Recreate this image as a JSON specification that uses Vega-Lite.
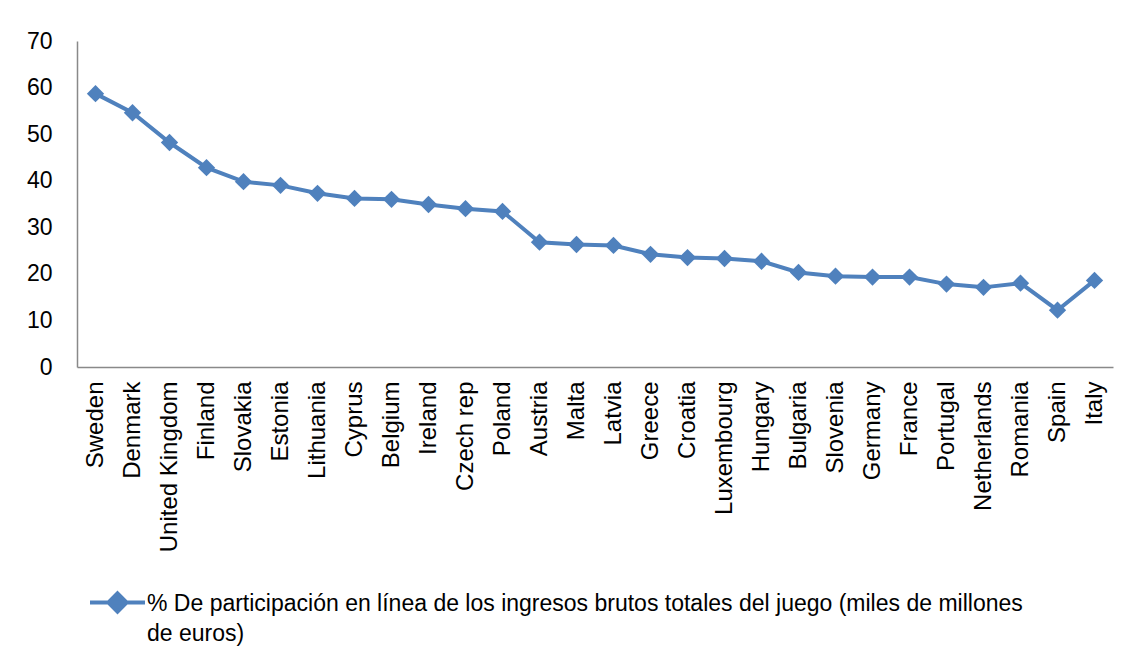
{
  "$schema": "https://vega.github.io/schema/vega-lite/v6.json",
  "width": 1036,
  "height": 326,
  "autosize": {"type": "none"},
  "padding": {"left": 77, "top": 41, "right": 18, "bottom": 299},
  "background": "white",
  "data": {
    "values": [
      {"pais": "Sweden", "valor": 58.7, "serie": "s"},
      {"pais": "Denmark", "valor": 54.6, "serie": "s"},
      {"pais": "United Kingdom", "valor": 48.2, "serie": "s"},
      {"pais": "Finland", "valor": 42.8, "serie": "s"},
      {"pais": "Slovakia", "valor": 39.8, "serie": "s"},
      {"pais": "Estonia", "valor": 39.0, "serie": "s"},
      {"pais": "Lithuania", "valor": 37.3, "serie": "s"},
      {"pais": "Cyprus", "valor": 36.2, "serie": "s"},
      {"pais": "Belgium", "valor": 36.0, "serie": "s"},
      {"pais": "Ireland", "valor": 34.9, "serie": "s"},
      {"pais": "Czech rep", "valor": 34.0, "serie": "s"},
      {"pais": "Poland", "valor": 33.4, "serie": "s"},
      {"pais": "Austria", "valor": 26.8, "serie": "s"},
      {"pais": "Malta", "valor": 26.3, "serie": "s"},
      {"pais": "Latvia", "valor": 26.1, "serie": "s"},
      {"pais": "Greece", "valor": 24.2, "serie": "s"},
      {"pais": "Croatia", "valor": 23.5, "serie": "s"},
      {"pais": "Luxembourg", "valor": 23.3, "serie": "s"},
      {"pais": "Hungary", "valor": 22.7, "serie": "s"},
      {"pais": "Bulgaria", "valor": 20.3, "serie": "s"},
      {"pais": "Slovenia", "valor": 19.5, "serie": "s"},
      {"pais": "Germany", "valor": 19.3, "serie": "s"},
      {"pais": "France", "valor": 19.3, "serie": "s"},
      {"pais": "Portugal", "valor": 17.8, "serie": "s"},
      {"pais": "Netherlands", "valor": 17.1, "serie": "s"},
      {"pais": "Romania", "valor": 18.0, "serie": "s"},
      {"pais": "Spain", "valor": 12.2, "serie": "s"},
      {"pais": "Italy", "valor": 18.6, "serie": "s"}
    ]
  },
  "encoding": {
    "x": {
      "field": "pais", "type": "nominal", "sort": null, "title": null,
      "scale": {"type": "point", "padding": 0.5},
      "axis": {
        "labelAngle": -90, "labelAlign": "right", "labelBaseline": "middle",
        "labelPadding": 14, "ticks": false, "domainColor": "#898989", "domainWidth": 1.5,
        "labelFontSize": 24, "labelColor": "#000000", "labelFont": "Liberation Sans, sans-serif",
        "grid": false, "labelLimit": 300
      }
    },
    "y": {
      "field": "valor", "type": "quantitative", "title": null,
      "scale": {"domain": [0, 70], "nice": false},
      "axis": {
        "values": [0, 10, 20, 30, 40, 50, 60, 70], "ticks": false, "grid": false,
        "labelPadding": 25, "domainColor": "#898989", "domainWidth": 1.5,
        "labelFontSize": 23, "labelColor": "#000000", "labelFont": "Liberation Sans, sans-serif"
      }
    },
    "color": {
      "field": "serie", "type": "nominal",
      "scale": {"range": ["#4F81BD"]},
      "legend": {
        "orient": "none", "legendX": 11, "legendY": 540, "title": null,
        "symbolType": "M-1,-0.29H1M0,-0.62L0.33,-0.29L0,0.04L-0.33,-0.29Z",
        "symbolSize": 3025, "symbolStrokeWidth": 4, "symbolFillColor": "#4F81BD", "symbolStrokeColor": "#4F81BD",
        "labelFontSize": 23, "labelColor": "#000000", "labelFont": "Liberation Sans, sans-serif",
        "labelLimit": 1100, "labelOffset": 0, "labelBaseline": "alphabetic",
        "labelExpr": "['% De participación en línea de los ingresos brutos totales del juego (miles de millones', 'de euros)']"
      }
    }
  },
  "layer": [
    {"mark": {"type": "line", "strokeWidth": 4, "color": "#4F81BD"}},
    {"mark": {"type": "point", "shape": "diamond", "filled": true, "size": 300, "opacity": 1, "color": "#4F81BD"}}
  ],
  "config": {"view": {"stroke": null}, "style": {"guide-label": {"lineHeight": 30}}}
}
